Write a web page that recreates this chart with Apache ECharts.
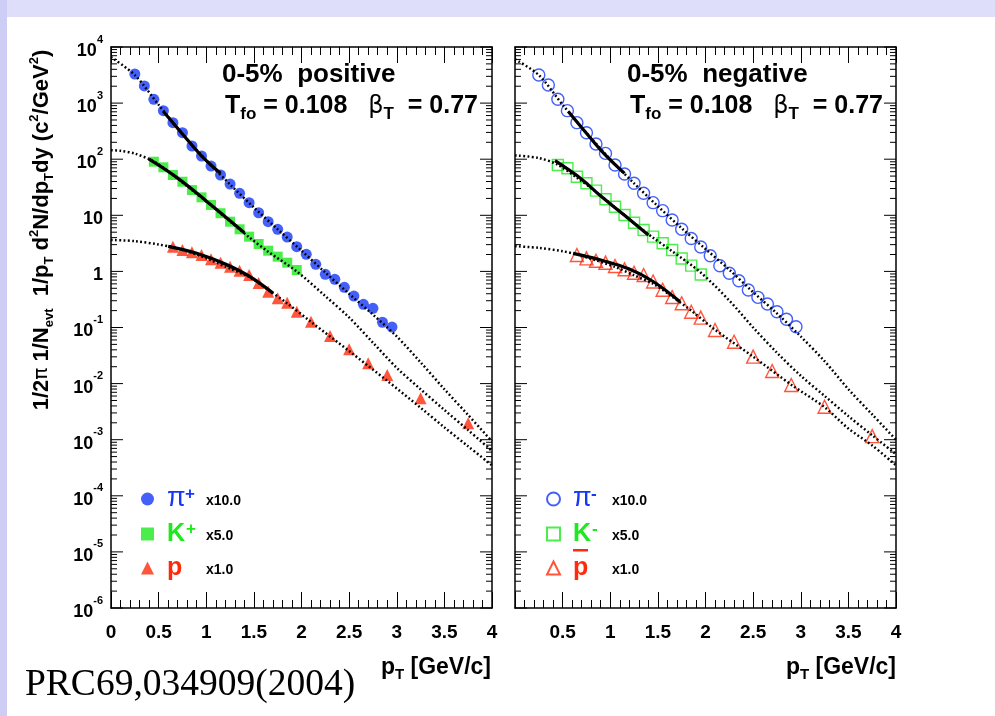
<!DOCTYPE html>
<html><head><meta charset="utf-8">
<script src="https://cdn.jsdelivr.net/npm/echarts/dist/echarts.min.js"></script>
<style>
html,body{margin:0;padding:0;background:#fff;}
#wrap{position:relative;width:995px;height:716px;background:#fff;overflow:hidden;}
#topband{position:absolute;left:0;top:0;width:995px;height:17px;background:#dedefb;}
#leftband{position:absolute;left:0;top:0;width:7px;height:716px;background:#cdcdf6;}
#chart{position:absolute;left:0;top:0;width:995px;height:716px;}
</style></head>
<body><div id="wrap"><div id="topband"></div><div id="leftband"></div><div id="chart"></div></div>
<script>
// ---------- data ----------
const piPT = [0.25,0.35,0.45,0.55,0.65,0.75,0.85,0.95,1.05,1.15,1.25,1.35,1.45,1.55,1.65,1.75,1.85,1.95,2.05,2.15,2.25,2.35,2.45,2.55,2.65,2.75,2.85,2.95];
const kPT  = [0.45,0.55,0.65,0.75,0.85,0.95,1.05,1.15,1.25,1.35,1.45,1.55,1.65,1.75,1.85,1.95];
const pPT  = [0.65,0.75,0.85,0.95,1.05,1.15,1.25,1.35,1.45,1.55,1.65,1.75,1.85,1.95,2.1,2.3,2.5,2.7,2.9,3.25,3.75];

const piPlus  = [3300,2020,1170,733,448,297,172,114,75.6,52.3,36.1,24.7,16.8,11.1,7.69,5.63,4.10,2.76,2.02,1.34,0.887,0.723,0.521,0.364,0.259,0.220,0.124,0.102];
const kPlus   = [90.2,71.7,52.3,39.7,28.2,20.9,15.3,10.9,7.69,5.63,4.16,3.08,2.34,1.83,1.43,1.06];
const proton  = [2.76,2.41,2.19,1.96,1.64,1.43,1.21,1.03,0.863,0.62,0.435,0.331,0.277,0.191,0.127,0.0705,0.0408,0.0230,0.0142,0.00547,0.00196];

const piMinus = [3170,2100,1170,733,448,297,187,127,78.8,54.5,37.2,24.7,16.8,12.1,8.24,5.63,3.86,2.72,1.90,1.26,0.925,0.683,0.466,0.345,0.262,0.191,0.140,0.103];
const kMinus  = [78.8,68.8,48.8,37.2,27.5,19.3,14.2,10.1,7.38,5.47,4.16,3.17,2.41,1.70,1.27,0.881];
const pbar    = [1.96,1.71,1.55,1.43,1.25,1.09,0.948,0.863,0.66,0.47,0.35,0.270,0.191,0.150,0.0902,0.0558,0.0302,0.0168,0.00944,0.00387,0.00116];

// blast-wave fit curves (solid: fit range, dotted: extrapolation), [pT, value]
const fitPiPlus  = [[0.55,708],[0.75,282],[0.95,115],[1.15,56]];
const fitKPlus   = [[0.40,100],[0.70,46],[1.00,18],[1.40,4.9]];
const fitProton  = [[0.60,2.8],[0.90,2.1],[1.20,1.35],[1.45,0.82],[1.70,0.41]];
const fitPiMinus = [[0.56,708],[0.75,290],[0.95,118],[1.15,56]];
const fitKMinus  = [[0.42,94],[0.70,44],[0.90,22],[1.15,10],[1.40,4.46]];
const fitPbar    = [[0.61,2.1],[0.90,1.6],[1.20,1.1],[1.45,0.66],[1.73,0.29]];

const bwPiPlus  = [[0,6600],[0.25,3160],[0.5,933],[0.75,282],[1.0,95.5],[1.25,35.5],[1.5,13.8],[1.75,5.62],[2.0,2.34],[2.25,0.955],[2.5,0.398],[2.75,0.170],[3.0,0.0692],[3.25,0.0240],[3.5,0.00794],[3.75,0.00275],[4.0,0.00093]];
const bwKPlus   = [[0,145],[0.1,141],[0.25,126],[0.45,91],[0.65,52.5],[0.85,28.2],[1.05,15.1],[1.25,7.76],[1.45,4.07],[1.65,2.24],[1.95,1.0],[2.25,0.363],[2.5,0.151],[2.75,0.0537],[3.0,0.0191],[3.25,0.00794],[3.5,0.00339],[3.75,0.00148],[4.0,0.00063]];
const bwProton  = [[0,3.63],[0.25,3.47],[0.5,3.02],[0.65,2.69],[0.85,2.14],[1.05,1.58],[1.25,1.12],[1.45,0.794],[1.65,0.468],[1.85,0.269],[2.1,0.126],[2.5,0.0380],[2.9,0.0112],[3.25,0.00372],[3.5,0.00166],[3.75,0.00076],[4.0,0.00035]];
const bwPiMinus = [[0,6030],[0.25,3160],[0.5,933],[0.75,295],[1.0,100],[1.25,37.2],[1.5,14.5],[1.75,5.89],[2.0,2.51],[2.25,1.07],[2.5,0.427],[2.75,0.178],[3.0,0.0692],[3.25,0.0251],[3.5,0.00794],[3.75,0.00282],[4.0,0.0010]];
const bwKMinus  = [[0,117],[0.25,105],[0.45,79.4],[0.65,46.8],[0.85,26.3],[1.05,13.8],[1.25,7.24],[1.45,3.98],[1.65,2.29],[1.95,0.955],[2.25,0.302],[2.5,0.100],[2.75,0.0355],[3.0,0.0138],[3.25,0.00603],[3.5,0.00263],[3.75,0.00120],[4.0,0.00055]];
const bwPbar    = [[0,2.82],[0.25,2.63],[0.5,2.29],[0.65,2.0],[0.85,1.58],[1.05,1.20],[1.25,0.851],[1.45,0.603],[1.65,0.355],[1.85,0.200],[2.1,0.0912],[2.5,0.0302],[2.9,0.00955],[3.25,0.00380],[3.5,0.00158],[3.75,0.00079],[4.0,0.00035]];

// axis ticks / labels
const xTickLabels = ['0','0.5','1','1.5','2','2.5','3','3.5','4'];
const yDecades = [-6,-5,-4,-3,-2,-1,0,1,2,3,4];
const yMinorMultipliers = [2,3,4,5,6,7,8,9];

// legend text
const legendNames = {
  'π+':'{g|}{pin|π}{sup1|+}{mul|x10.0}',
  'K+':'{g|}{kn|K}{sup2|+}{mul|x5.0}',
  'p':'{g|}{pn|p}{mul|x1.0}',
  'π-':'{g|}{pin|π}{sup1|-}{mul|x10.0}',
  'K-':'{g|}{kn|K}{sup2|-}{mul|x5.0}',
  'pbar':'{g|}{pn|p}{mul|x1.0}'
};

// ---------- styling ----------
const BLUE='#1538f8', GREEN='#1ee81e', RED='#ff2a0c';
const FONT='Liberation Sans';
const zip=(xs,ys)=>xs.map((x,i)=>[x,ys[i]]);
const minorTicks=[];
yDecades.slice(0,-1).forEach(e=>yMinorMultipliers.forEach(m=>minorTicks.push([0,m*Math.pow(10,e)])));
const majorTicks=yDecades.map(e=>[0,Math.pow(10,e)]);

const gridW=381, gridTop=47, gridH=561;
const grids=[{left:111,top:gridTop,width:gridW,height:gridH},{left:515,top:gridTop,width:gridW,height:gridH}];

function xAx(g,pos,labels){
  return {type:'value',gridIndex:g,position:pos,min:0,max:4,interval:0.5,
    axisLine:{show:true,onZero:false,lineStyle:{color:'#000',width:1.5}},
    axisTick:{show:true,inside:true,length:16,lineStyle:{color:'#000',width:1}},
    minorTick:{show:true,splitNumber:5,length:8,lineStyle:{color:'#000',width:1}},
    splitLine:{show:false},minorSplitLine:{show:false},
    axisLabel:{show:labels,margin:15,color:'#000',fontFamily:FONT,fontWeight:'bold',fontSize:19,
      formatter:v=>{const i=Math.round(v*2); if(g===1&&i===0) return ''; return xTickLabels[i];}}};
}
function yAx(g,pos,labels){
  return {type:'log',logBase:10,gridIndex:g,position:pos,min:1e-6,max:1e4,interval:1,splitNumber:10,
    axisLine:{show:true,onZero:false,lineStyle:{color:'#000',width:1.5}},
    axisTick:{show:false},
    splitLine:{show:false},
    axisLabel:{show:labels,margin:8,color:'#000',fontFamily:FONT,fontWeight:'bold',
      formatter:v=>{const e=Math.round(Math.log10(v)); if(e===0) return '{b|1}'; if(e===1) return '{b|10}'; return '{b|10}{s|'+e+'}';},
      rich:{b:{fontSize:18,fontWeight:'bold',fontFamily:FONT,color:'#000',verticalAlign:'bottom',lineHeight:26},
            s:{fontSize:11,fontWeight:'bold',fontFamily:FONT,color:'#000',verticalAlign:'top',lineHeight:26}}}};
}

function scatter(name,g,data,sym,size,color,open){
  return {name,type:'scatter',xAxisIndex:g*2,yAxisIndex:g*2,data,symbol:sym,symbolSize:size,z:3,
    itemStyle: open?{color:'rgba(255,255,255,0)',borderColor:color,borderWidth:1.4}:{color:color},
    emphasis:{disabled:true}};
}
function dotted(g,data){
  return {type:'line',xAxisIndex:g*2,yAxisIndex:g*2,data,smooth:0.3,showSymbol:false,symbol:'none',z:4,silent:true,
    lineStyle:{color:'#000',width:2.5,type:[1.8,2.4]}};
}
function solid(g,data){
  return {type:'line',xAxisIndex:g*2,yAxisIndex:g*2,data,smooth:0.4,showSymbol:false,symbol:'none',z:5,silent:true,
    lineStyle:{color:'#000',width:3.2}};
}
function tickSeries(g,data,len){
  return {type:'custom',xAxisIndex:g*2,yAxisIndex:g*2,data:data,clip:false,silent:true,z:6,
    renderItem:(params,api)=>{
      const v=api.value(1); const a=api.coord([0,v]); const b=api.coord([4,v]);
      return {type:'group',children:[
        {type:'line',shape:{x1:a[0],y1:a[1],x2:a[0]+len,y2:a[1]},style:{stroke:'#000',lineWidth:1}},
        {type:'line',shape:{x1:b[0]-len,y1:b[1],x2:b[0],y2:b[1]},style:{stroke:'#000',lineWidth:1}}]};
    }};
}
const legendRich={
  g:{width:8},
  pin:{color:BLUE,fontSize:27,fontFamily:FONT,width:18,verticalAlign:'bottom',lineHeight:26},
  kn:{color:GREEN,fontSize:25,fontWeight:'bold',fontFamily:FONT,width:19,verticalAlign:'bottom',lineHeight:26},
  pn:{color:RED,fontSize:25,fontWeight:'bold',fontFamily:FONT,width:39,verticalAlign:'bottom',lineHeight:26},
  sup1:{color:BLUE,fontSize:17,fontWeight:'bold',fontFamily:FONT,width:21,verticalAlign:'top',lineHeight:26},
  sup2:{color:GREEN,fontSize:17,fontWeight:'bold',fontFamily:FONT,width:20,verticalAlign:'top',lineHeight:26},
  mul:{color:'#000',fontSize:14,fontWeight:'bold',fontFamily:FONT,verticalAlign:'middle',lineHeight:26,padding:[5,0,0,0]}
};
function legend(left,names){
  return {show:true,orient:'vertical',left:left,top:485,itemWidth:13,itemHeight:13,itemGap:9,padding:0,
    data:names,formatter:n=>legendNames[n],textStyle:{rich:legendRich},selectedMode:false};
}
const titleRich={
  t:{fontSize:25,fontWeight:'bold',fontFamily:FONT,color:'#000',verticalAlign:'middle',lineHeight:32},
  sb:{fontSize:17,fontWeight:'bold',fontFamily:FONT,color:'#000',verticalAlign:'bottom',lineHeight:32},
  bt:{fontSize:24,fontFamily:'DejaVu Sans',color:'#000',verticalAlign:'middle',lineHeight:32}
};
function panelTexts(x,word){
  return [
    {type:'text',left:x,top:62,style:{text:'0-5%  '+word,font:'bold 26px "Liberation Sans"',fill:'#000'}},
    {type:'text',left:x+3,top:94,style:{text:'{t|T}{sb|fo}{t| = 0.108   }{bt|β}{sb|T}{t|  = 0.77}',rich:titleRich}}
  ];
}
const subRich=(fs)=>({sub:{fontSize:fs,fontWeight:'bold',fontFamily:FONT,verticalAlign:'bottom',lineHeight:30}});

const chart=echarts.init(document.getElementById('chart'),null,{renderer:'canvas'});
chart.setOption({
  animation:false,
  backgroundColor:'transparent',
  grid:grids,
  xAxis:[xAx(0,'bottom',true),xAx(0,'top',false),xAx(1,'bottom',true),xAx(1,'top',false)],
  yAxis:[yAx(0,'left',true),yAx(0,'right',false),yAx(1,'left',false),yAx(1,'right',false)],
  legend:[legend(141,['π+','K+','p']),legend(546,['π-','K-','pbar'])],
  series:[
    scatter('π+',0,zip(piPT,piPlus),'circle',11,BLUE,false),
    scatter('K+',0,zip(kPT,kPlus),'rect',10,GREEN,false),
    scatter('p',0,zip(pPT,proton),'triangle',12,RED,false),
    dotted(0,bwPiPlus),dotted(0,bwKPlus),dotted(0,bwProton),
    solid(0,fitPiPlus),solid(0,fitKPlus),solid(0,fitProton),
    scatter('π-',1,zip(piPT,piMinus),'circle',12,BLUE,true),
    scatter('K-',1,zip(kPT,kMinus),'rect',11,GREEN,true),
    scatter('pbar',1,zip(pPT,pbar),'triangle',13,RED,true),
    dotted(1,bwPiMinus),dotted(1,bwKMinus),dotted(1,bwPbar),
    solid(1,fitPiMinus),solid(1,fitKMinus),solid(1,fitPbar),
    tickSeries(0,minorTicks,6),tickSeries(1,minorTicks,6),
    tickSeries(0,majorTicks,12),tickSeries(1,majorTicks,12)
  ],
  graphic:[
    ...panelTexts(222,'positive'),
    ...panelTexts(627,'negative'),
    {type:'text',x:42,y:230,rotation:Math.PI/2,style:{
      text:'1/2{pi|π} 1/N{sub|evt}  1/p{sub|T} d{sup|2}N/dp{sub|T}dy (c{sup|2}/GeV{sup|2})',
      align:'center',verticalAlign:'middle',font:'bold 22px "Liberation Sans"',fill:'#000',
      rich:{sub:{fontSize:13,fontWeight:'bold',fontFamily:FONT,verticalAlign:'bottom',lineHeight:28},
            sup:{fontSize:13,fontWeight:'bold',fontFamily:FONT,verticalAlign:'top',lineHeight:28},
            pi:{fontSize:20,fontFamily:'DejaVu Sans',verticalAlign:'middle',lineHeight:28}}}},
    {type:'text',right:995-491,top:656,style:{text:'p{sub|T} [GeV/c]',font:'bold 23px "Liberation Sans"',fill:'#000',rich:subRich(15)}},
    {type:'text',right:995-896,top:656,style:{text:'p{sub|T} [GeV/c]',font:'bold 23px "Liberation Sans"',fill:'#000',rich:subRich(15)}},
    {type:'text',left:25,top:666,style:{text:'PRC69,034909(2004)',font:'37.5px "Liberation Serif"',fill:'#000'}},
    {type:'rect',shape:{x:573,y:549,width:15,height:2.5},style:{fill:RED}}
  ]
});
</script></body></html>
